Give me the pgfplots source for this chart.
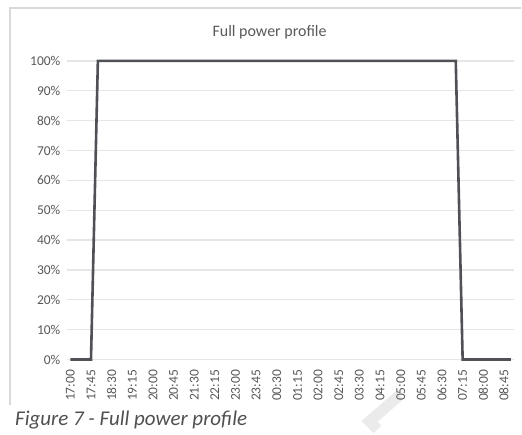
\documentclass[border=0pt]{standalone}
\usepackage{pgfplots}
\pgfplotsset{compat=1.18}
\usepackage{fontspec}
\setmainfont{Carlito}
\definecolor{txtc}{HTML}{595959}
\definecolor{gridc}{HTML}{E6E6E6}
\definecolor{linec}{HTML}{4F5157}
\definecolor{framec}{HTML}{D9D9D9}
\begin{document}
\begin{tikzpicture}
\path[draw=none, fill=white] (0pt,0pt) rectangle (522pt,430pt);
% chart frame (left and top edges visible)
\draw[framec, line width=1.5pt] (10pt,24pt) -- (10pt,422pt) -- (522pt,422pt);
% faint watermark fragment
\draw[black!8, line width=11pt] (400pt,34pt) -- (370pt,8pt) -- (378pt,0pt);
\begin{axis}[
  at={(67pt,70pt)}, anchor=south west,
  scale only axis, width=448pt, height=299pt,
  xmin=-0.5, xmax=64.5, ymin=0, ymax=100,
  axis line style={draw=none},
  tick style={draw=none},
  ymajorgrids, grid style={draw=gridc, line width=1.3pt},
  ytick={0,10,...,100},
  yticklabel={\pgfmathprintnumber{\tick}\%},
  /pgf/number format/assume math mode=true,
  xtick={0,3,...,63},
  xticklabels={17:00,17:45,18:30,19:15,20:00,20:45,21:30,22:15,23:00,23:45,00:30,01:15,02:00,02:45,03:30,04:15,05:00,05:45,06:30,07:15,08:00,08:45},
  xticklabel style={rotate=90, anchor=east},
  xticklabel shift={7pt},
  yticklabel shift={3pt},
  tick label style={font=\fontsize{13.5}{14}\selectfont, text=txtc},
  clip=false,
]
\addplot[linec, line width=2.6pt, line join=miter, mark=none] coordinates {
(0,0)(1,0)(2,0)(3,0)(4,100)(5,100)(6,100)(7,100)(8,100)(9,100)(10,100)
(11,100)(12,100)(13,100)(14,100)(15,100)(16,100)(17,100)(18,100)(19,100)(20,100)
(21,100)(22,100)(23,100)(24,100)(25,100)(26,100)(27,100)(28,100)(29,100)(30,100)
(31,100)(32,100)(33,100)(34,100)(35,100)(36,100)(37,100)(38,100)(39,100)(40,100)
(41,100)(42,100)(43,100)(44,100)(45,100)(46,100)(47,100)(48,100)(49,100)(50,100)
(51,100)(52,100)(53,100)(54,100)(55,100)(56,100)(57,0)(58,0)(59,0)(60,0)
(61,0)(62,0)(63,0)(64,0)
};
\end{axis}
\node[text=txtc, font=\fontsize{16}{18}\selectfont] at (270pt,398pt) {Full power profile};
\node[anchor=base west, inner sep=0pt, text=txtc!90!black, font=\fontsize{21}{24}\selectfont\itshape] at (15pt,4pt) {Figure 7 - Full power profile};
\end{tikzpicture}
\end{document}
